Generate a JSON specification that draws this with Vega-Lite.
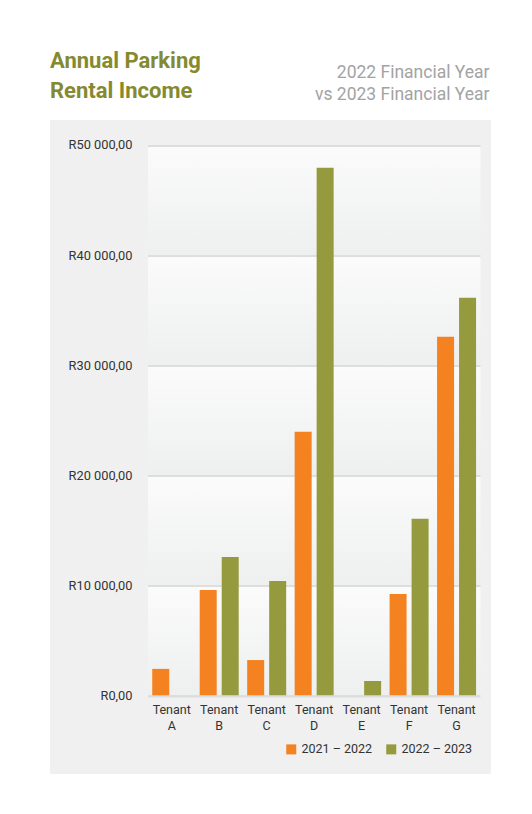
{
  "$schema": "https://vega.github.io/schema/vega-lite/v6.json",
  "width": 441,
  "height": 654,
  "autosize": {"type": "none"},
  "padding": {"left": 50, "top": 120, "right": 41, "bottom": 40},
  "background": "#ffffff",
  "view": {"fill": "#f0f0f0", "stroke": null},
  "config": {"font": "Roboto"},
  "title": {
    "text": ["Annual Parking", "Rental Income"],
    "anchor": "start",
    "frame": "group",
    "font": "Roboto",
    "fontSize": 22,
    "fontWeight": "bold",
    "color": "#848a2f",
    "lineHeight": 30,
    "baseline": "bottom",
    "offset": 16,
    "dy": 78
  },
  "data": {
    "values": [
      {"tenant": "Tenant A", "period": "2021 – 2022", "value": 2400},
      {"tenant": "Tenant A", "period": "2022 – 2023", "value": 0},
      {"tenant": "Tenant B", "period": "2021 – 2022", "value": 9570},
      {"tenant": "Tenant B", "period": "2022 – 2023", "value": 12570},
      {"tenant": "Tenant C", "period": "2021 – 2022", "value": 3200},
      {"tenant": "Tenant C", "period": "2022 – 2023", "value": 10390},
      {"tenant": "Tenant D", "period": "2021 – 2022", "value": 23940},
      {"tenant": "Tenant D", "period": "2022 – 2023", "value": 47940},
      {"tenant": "Tenant E", "period": "2021 – 2022", "value": 0},
      {"tenant": "Tenant E", "period": "2022 – 2023", "value": 1300},
      {"tenant": "Tenant F", "period": "2021 – 2022", "value": 9210},
      {"tenant": "Tenant F", "period": "2022 – 2023", "value": 16030},
      {"tenant": "Tenant G", "period": "2021 – 2022", "value": 32570},
      {"tenant": "Tenant G", "period": "2022 – 2023", "value": 36120}
    ]
  },
  "layer": [
    {
      "mark": {
        "type": "rect",
        "color": {
          "gradient": "linear",
          "x1": 0, "y1": 0, "x2": 0, "y2": 1,
          "stops": [
            {"offset": 0, "color": "#dedede"},
            {"offset": 0.003, "color": "#dedede"},
            {"offset": 0.0035, "color": "#fbfbfb"},
            {"offset": 0.1995, "color": "#eeefef"},
            {"offset": 0.2, "color": "#dedede"},
            {"offset": 0.203, "color": "#dedede"},
            {"offset": 0.2035, "color": "#fbfbfb"},
            {"offset": 0.3995, "color": "#eeefef"},
            {"offset": 0.4, "color": "#dedede"},
            {"offset": 0.403, "color": "#dedede"},
            {"offset": 0.4035, "color": "#fbfbfb"},
            {"offset": 0.5995, "color": "#eeefef"},
            {"offset": 0.6, "color": "#dedede"},
            {"offset": 0.603, "color": "#dedede"},
            {"offset": 0.6035, "color": "#fbfbfb"},
            {"offset": 0.7995, "color": "#eeefef"},
            {"offset": 0.8, "color": "#dedede"},
            {"offset": 0.803, "color": "#dedede"},
            {"offset": 0.8035, "color": "#fbfbfb"},
            {"offset": 1, "color": "#eeefef"}
          ]
        }
      },
      "encoding": {
        "x": {
          "field": "tenant",
          "type": "nominal",
          "axis": {
            "orient": "top",
            "domain": false,
            "ticks": false,
            "labels": false,
            "grid": false,
            "title": ["2022 Financial Year", "vs 2023 Financial Year"],
            "titleFontSize": 17.5,
            "titleFontWeight": "normal",
            "titleColor": "#a3a3a3",
            "titleLineHeight": 22,
            "titleAlign": "right",
            "titleAnchor": "end",
            "titleBaseline": "alphabetic",
            "titleAngle": 0,
            "titleX": 439,
            "titleY": -43
          }
        },
        "y": {"datum": 0, "type": "quantitative"},
        "y2": {"datum": 50000}
      }
    },
    {
      "mark": {"type": "rect", "color": "#dcdcdc"},
      "encoding": {
        "x": {"field": "tenant", "type": "nominal", "axis": null},
        "y": {"datum": 0, "type": "quantitative"},
        "y2": {"datum": -180}
      }
    },
    {
      "mark": {"type": "bar"},
      "encoding": {
        "x": {
          "field": "tenant",
          "type": "nominal",
          "scale": {"paddingInner": 0, "paddingOuter": 0, "range": [98, 430.3]},
          "axis": {
            "orient": "bottom",
            "offset": -79,
            "domain": false,
            "ticks": false,
            "grid": false,
            "labelAngle": 0,
            "labelExpr": "split(datum.label, ' ')",
            "labelPadding": 8,
            "labelFontSize": 12.5,
            "labelColor": "#333333",
            "labelLineHeight": 16,
            "labelBaseline": "top",
            "title": null
          }
        },
        "xOffset": {
          "field": "period",
          "type": "nominal",
          "scale": {"paddingInner": 0.227, "paddingOuter": 0.1925}
        },
        "y": {
          "field": "value",
          "type": "quantitative",
          "scale": {"domain": [-7151, 52271], "nice": false, "zero": false},
          "axis": {
            "values": [0, 10000, 20000, 30000, 40000, 50000],
            "offset": -98,
            "domain": false,
            "ticks": false,
            "grid": false,
            "labelPadding": 16,
            "labelFontSize": 12.8,
            "labelColor": "#333333",
            "title": null,
            "labelExpr": "'R' + replace(replace(format(datum.value, ',.2f'), ',', ' '), '.', ',')"
          }
        },
        "y2": {"datum": 0},
        "color": {
          "field": "period",
          "type": "nominal",
          "scale": {"domain": ["2021 – 2022", "2022 – 2023"], "range": ["#f58220", "#969a3e"]},
          "legend": {
            "orient": "bottom-right",
            "direction": "horizontal",
            "title": null,
            "symbolType": "square",
            "symbolSize": 100,
            "symbolStrokeWidth": 0,
            "symbolOpacity": 1,
            "labelFontSize": 12.5,
            "labelColor": "#333333",
            "offset": 18,
            "columnPadding": 12,
            "labelOffset": 4
          }
        }
      }
    }
  ],
  "resolve": {"axis": {"x": "independent"}}
}
